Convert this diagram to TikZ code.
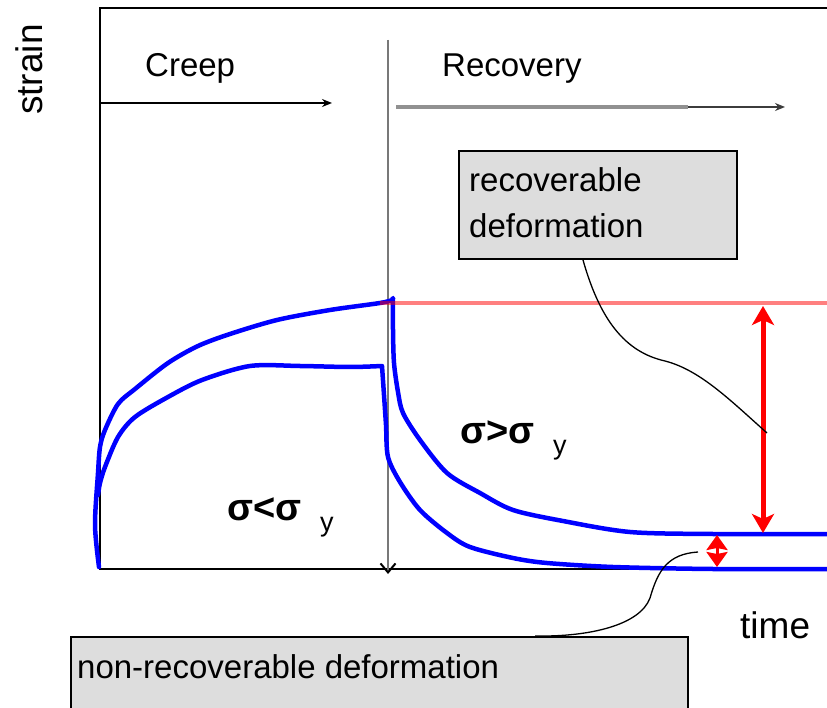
\documentclass[tikz,border=0pt]{standalone}
\usepackage{fontspec}
\setmainfont{Liberation Sans}
\usetikzlibrary{arrows.meta,calc}
\definecolor{boxgray}{RGB}{221,221,221}
\definecolor{divgray}{RGB}{120,120,120}
\definecolor{recgray}{RGB}{145,145,145}
\definecolor{tipgray}{RGB}{60,60,60}
\begin{document}
\begin{tikzpicture}[x=1pt,y=-1pt,
  frameline/.style={black, line width=2pt},
  bluecurve/.style={blue, line width=4.5pt, line join=round, line cap=round},
  lbl/.style={font=\fontsize{33}{40}\selectfont, inner sep=0pt},
  axlbl/.style={font=\fontsize{37}{44}\selectfont, inner sep=0pt},
  siglbl/.style={font=\fontsize{38}{44}\selectfont\bfseries, inner sep=0pt},
  sublbl/.style={font=\fontsize{27}{32}\selectfont, inner sep=0pt},
  callbox/.style={draw=black, fill=boxgray, line width=2pt, rectangle, inner sep=0pt},
  callout/.style={black, line width=1.3pt},
  redarrow/.style={red, line width=5pt, {Stealth[length=19pt,width=22pt,inset=5pt]}-{Stealth[length=19pt,width=22pt,inset=5pt]}},
  smallred/.style={red, line width=3pt, {Stealth[length=15pt,width=21pt,inset=2pt]}-{Stealth[length=15pt,width=21pt,inset=2pt]}}
]
\useasboundingbox (0,0) rectangle (827,708);
\fill[white] (0,0) rectangle (827,708);

% frame
\coordinate (ftr) at (830,8);
\coordinate (ftl) at (100,8);
\coordinate (fbl) at (100,569);
\coordinate (fbr) at (830,569);
\draw[frameline] (ftr) -- (ftl) -- (fbl) -- (fbr);

% labels
\node[axlbl, rotate=90, anchor=base west] (strain) at (42,115) {strain};
\node[axlbl, anchor=base west] (time) at (740,638) {time};
\node[lbl, anchor=base west] (creep) at (145,77) {Creep};
\node[lbl, anchor=base west] (recov) at (442,77) {Recovery};

% creep arrow
\coordinate (cs) at (100,103);
\coordinate (ce) at (332,103);
\draw[black, line width=1.5pt, -{Stealth[length=10pt,width=8pt]}] (cs) -- (ce);

% recovery arrow
\coordinate (rs) at (396,107);
\coordinate (rm) at (688,107);
\coordinate (re) at (785,107);
\draw[recgray, line width=3.5pt] (rs) -- (rm);
\draw[tipgray, line width=1.5pt, -{Stealth[length=10pt,width=8pt]}] (rm) -- (re);

% divider
\coordinate (dt) at (388,40);
\coordinate (db) at (388,574);
\draw[divgray, line width=2pt, -{Straight Barb[length=9pt,width=15pt,color=black,line width=2pt]}] (dt) -- (db);

% recoverable box
\node[callbox, anchor=north west, minimum width=278pt, minimum height=108pt] (recbox) at (458,150) {};
\node[lbl, anchor=base west] (rectxt) at ($(recbox.north west)+(11,42)$) {recoverable};
\node[lbl, anchor=base west] (deftxt) at ($(recbox.north west)+(11,88)$) {deformation};

% non-recoverable box
\node[callbox, anchor=north west, minimum width=617pt, minimum height=80pt] (nrbox) at (70,636) {};
\node[lbl, anchor=base west] (nrtxt) at ($(nrbox.north west)+(7,42)$) {non-recoverable deformation};

% blue curves
\draw[bluecurve] plot[smooth, tension=0.5] coordinates {(99,567) (95,525) (98,473) (100,447) (105,430) (118,404) (135,389) (168,363) (198,346) (230,334) (277,320) (330,310) (380,303) (392,300)}
  -- plot[smooth, tension=0.5] coordinates {(393,298) (393,330) (394,363) (398,392) (403,413) (420,440) (447,473) (480,493) (513,510) (563,521) (630,532) (713,534) (830,534)};
\draw[bluecurve] plot[smooth, tension=0.5] coordinates {(98,495) (100,483) (105,467) (118,437) (135,417) (168,397) (202,380) (250,366) (300,366) (350,367) (382,366)}
  -- plot[smooth, tension=0.5] coordinates {(382,366) (384,395) (386,425) (388,457) (400,482) (420,510) (447,533) (470,547) (513,558) (547,563) (613,567) (713,569) (830,569)};

% pink reference line
\coordinate (pk1) at (380,303);
\coordinate (pk2) at (830,303);
\draw[red, opacity=0.5, line width=3.5pt] (pk1) -- (pk2);

% red arrows
\coordinate (ra1) at (763,306);
\coordinate (ra2) at (763,533);
\draw[redarrow] (ra1) -- (ra2);
\coordinate (sa1) at (717,535);
\coordinate (sa2) at (717,567);
\draw[smallred] (sa1) -- (sa2);

% callouts
\coordinate (c1s) at ($(recbox.south west)+(125,0)$);
\coordinate (c1e) at (767,433);
\draw[callout] (c1s) .. controls (600,320) and (625,352) .. (665,361) .. controls (700,370) and (730,400) .. (c1e);
\coordinate (c2s) at ($(nrbox.north west)+(465,0)$);
\coordinate (c2e) at (698,552);
\draw[callout] (c2s) .. controls (590,637) and (640,625) .. (650,598) .. controls (658,570) and (668,554) .. (c2e);

% sigma labels
\node[siglbl, anchor=base west] (sg1) at (227,520) {σ<σ};
\node[sublbl, anchor=base west] (sg1y) at (320,531) {y};
\node[siglbl, anchor=base west] (sg2) at (460,443) {σ>σ};
\node[sublbl, anchor=base west] (sg2y) at (553,454) {y};
\end{tikzpicture}
\end{document}
